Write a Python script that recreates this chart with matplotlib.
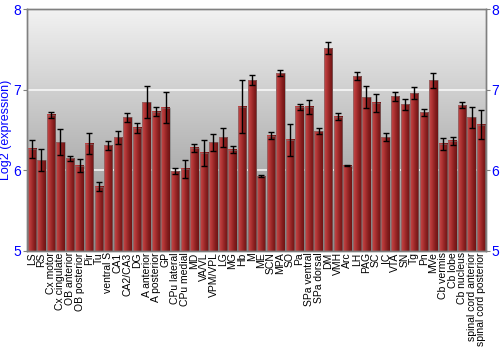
import numpy as np
import matplotlib
matplotlib.use("Agg")
import matplotlib.pyplot as plt
from matplotlib.colors import LinearSegmentedColormap

plt.rcParams['font.family'] = ['Liberation Sans', 'DejaVu Sans']

categories = ["LS", "RS", "Cx motor", "Cx cingulate", "OB anterior", "OB posterior", "Pir", "Tu",
              "ventral S", "CA1", "CA2/CA3", "DG", "A anterior", "A posterior", "GP", "CPu lateral",
              "CPu medial", "MD", "VA/VL", "VPM/VPL", "LG", "MG", "Hb", "M", "ME", "SCN", "MPA", "SO",
              "Pa", "SPa ventral", "SPa dorsal", "DM", "VMH", "Arc", "LH", "PAG", "SC", "IC", "VTA",
              "SN", "Tg", "Pn", "MVe", "Cb vermis", "Cb lobe", "Cb nucleus", "spinal cord anterior",
              "spinal cord posterior"]
values = [6.27, 6.13, 6.69, 6.35, 6.15, 6.06, 6.33, 5.80,
          6.31, 6.41, 6.66, 6.53, 6.85, 6.73, 6.78, 5.99,
          6.02, 6.28, 6.22, 6.35, 6.41, 6.26, 6.79, 7.12, 5.93, 6.43, 7.21, 6.38,
          6.79, 6.79, 6.49, 7.52, 6.67, 6.06, 7.17, 6.91, 6.84, 6.41, 6.92,
          6.82, 6.96, 6.72, 7.12, 6.33, 6.37, 6.81, 6.66, 6.57]
errors = [0.11, 0.14, 0.035, 0.16, 0.035, 0.08, 0.13, 0.06,
          0.055, 0.08, 0.055, 0.06, 0.2, 0.055, 0.19, 0.04,
          0.11, 0.045, 0.16, 0.105, 0.115, 0.04, 0.33, 0.06, 0.015, 0.045, 0.04, 0.2,
          0.04, 0.09, 0.035, 0.07, 0.04, 0.01, 0.05, 0.14, 0.11, 0.05, 0.06,
          0.065, 0.075, 0.04, 0.09, 0.07, 0.05, 0.035, 0.13, 0.18]
yticks = [5, 6, 7, 8]

fig = plt.figure(figsize=(5, 3.5), dpi=100)
ax = fig.add_axes([0.054, 0.283, 0.918, 0.690])
ymin, ymax = 5, 8
n = len(categories)
x = np.arange(n)
ax.set_xlim(-0.5, n - 0.5)
ax.set_ylim(ymin, ymax)

# background gradient
bg = LinearSegmentedColormap.from_list('bg', ['#8c8c8c', '#f2f2f2'])
grad = np.linspace(0, 1, 256).reshape(-1, 1)
ax.imshow(grad, cmap=bg, aspect='auto', extent=(-0.5, n - 0.5, ymin, ymax),
          origin='lower', zorder=0)

for yv in [6, 7]:
    ax.axhline(yv, color='white', lw=1.2, alpha=0.85, zorder=1)

barcm = LinearSegmentedColormap.from_list('bar', ['#c64a4a', '#b03434', '#8a2020', '#6e1414'])
hgrad = np.linspace(0, 1, 64).reshape(1, -1)
w = 0.88
for xi, v in zip(x, values):
    ax.imshow(hgrad, cmap=barcm, aspect='auto',
              extent=(xi - w / 2, xi + w / 2, ymin, v), zorder=2)
ax.bar(x, values, width=w, bottom=0, facecolor='none', edgecolor='#7a7a7a', lw=0.4, zorder=3)
ax.errorbar(x, values, yerr=errors, fmt='none', ecolor='black', elinewidth=1,
            capsize=2, capthick=1, zorder=4)

ax.set_xticks(x)
ax.set_xticklabels(categories, rotation=90, fontsize=7.5)
ax.tick_params(axis='x', length=0, pad=1)
ax.set_yticks(yticks)
ax.tick_params(axis='y', colors='#808080', labelcolor='blue', labelsize=10, length=3, pad=1)
ax.set_ylabel('Log2 (expression)', color='blue', fontsize=9, labelpad=1)

ax2 = ax.twinx()
ax2.set_ylim(ymin, ymax)
ax2.set_yticks(yticks)
ax2.tick_params(axis='y', colors='#808080', labelcolor='blue', labelsize=10, length=3, pad=1)

for a in (ax, ax2):
    for s in a.spines.values():
        s.set_color('#808080')
        s.set_linewidth(1)

fig.savefig('out.png', dpi=100)
